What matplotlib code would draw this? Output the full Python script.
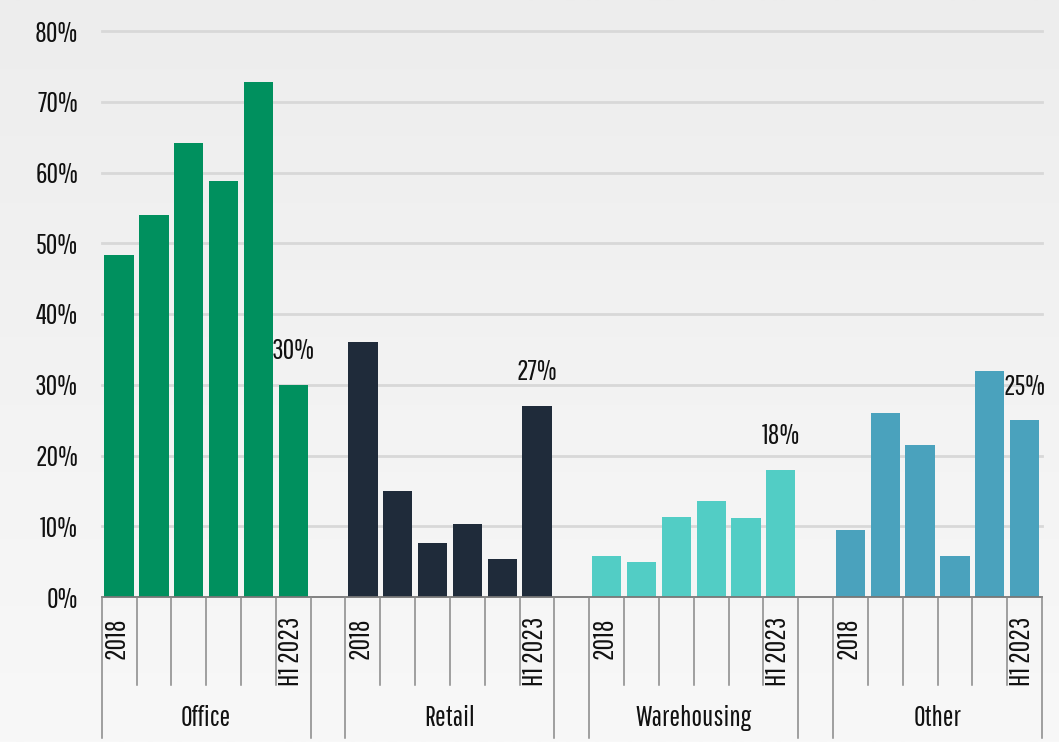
import matplotlib
matplotlib.use("Agg")
import matplotlib.pyplot as plt
import numpy as np

plt.rcParams['font.family'] = ['Pathway Gothic One', 'DejaVu Sans']

groups = ["Office", "Retail", "Warehousing", "Other"]
year_labels = ["2018", "", "", "", "", "H1 2023"]
office = [48.3, 54.0, 64.2, 58.8, 72.8, 30.0]
retail = [36.0, 15.0, 7.6, 10.3, 5.4, 27.0]
warehousing = [5.8, 4.9, 11.3, 13.6, 11.2, 18.0]
other = [9.5, 26.0, 21.5, 5.8, 32.0, 25.0]
series = [office, retail, warehousing, other]
last_labels = ["30%", "27%", "18%", "25%"]
colors = ["#00905e", "#1f2b3a", "#52cdc5", "#4aa2bd"]
yticks = [0, 10, 20, 30, 40, 50, 60, 70, 80]

FS = 20.5
W, H = 1059, 742
fig = plt.figure(figsize=(W / 100, H / 100), dpi=100)

# background gradient
bg = fig.add_axes([0, 0, 1, 1], zorder=-10)
grad = np.linspace(237, 248, 256).reshape(-1, 1) / 255.0
grad_rgb = np.dstack([grad, grad, grad])
bg.imshow(grad_rgb, aspect='auto', extent=[0, 1, 0, 1], origin='upper')
bg.set_axis_off()

x0_px, x1_px = 101.7, 1042.0
y_axis_px, y_top_px = 597, 31
left = x0_px / W
width = (x1_px - x0_px) / W
bottom = (H - y_axis_px) / H
height = (y_axis_px - y_top_px) / H

ax = fig.add_axes([left, bottom, width, height])
ax.set_facecolor('none')
n = len(office)
stride = n + 1
bar_w = 0.84
for gi, vals in enumerate(series):
    xs = [gi * stride + i for i in range(n)]
    ax.bar(xs, vals, width=bar_w, color=colors[gi], zorder=3)
    ax.text(xs[-1], vals[-1] + 2.9, last_labels[gi], ha='center', va='bottom',
            fontsize=FS, color='#111111', zorder=4)

total = len(groups) * stride - 1
ax.set_xlim(-0.5, total - 0.5)
ax.set_ylim(0, 80)
ax.set_yticks(yticks)
ax.set_yticklabels([f"{v}%" for v in yticks], fontsize=FS, color='#111111')
ax.tick_params(axis='y', length=0, pad=17)
ax.set_xticks([])
for v in yticks[1:]:
    ax.axhline(v, color='#d8d8d8', lw=2, zorder=1, clip_on=False)
for s in ['top', 'right', 'left']:
    ax.spines[s].set_visible(False)
ax.spines['bottom'].set_color('#777777')
ax.spines['bottom'].set_linewidth(1.3)
ax.spines['bottom'].set_zorder(5)

# category axis area
depth_total = 143
ax2 = fig.add_axes([left, (H - y_axis_px - depth_total) / H, width, depth_total / H])
ax2.set_facecolor('none')
ax2.set_xlim(-0.5, total - 0.5)
ax2.set_ylim(depth_total, 0)
ax2.set_axis_off()

for gi, g in enumerate(groups):
    start = gi * stride
    for b in [start - 0.5, start + n - 0.5]:
        ax2.plot([b, b], [0, 141], color='#888888', lw=1.1, clip_on=False)
    for i in range(1, n):
        b = start + i - 0.5
        ax2.plot([b, b], [0, 88], color='#888888', lw=1.1, clip_on=False)
    for i, yl in enumerate(year_labels):
        if yl:
            ax2.text(start + i - 0.07, 20, yl, rotation=90, ha='center', va='top',
                     fontsize=FS, color='#111111')
    ax2.text(start + (n - 1) / 2, 121, g, ha='center', va='center',
             fontsize=FS, color='#111111')

fig.savefig("out.png", dpi=100)
